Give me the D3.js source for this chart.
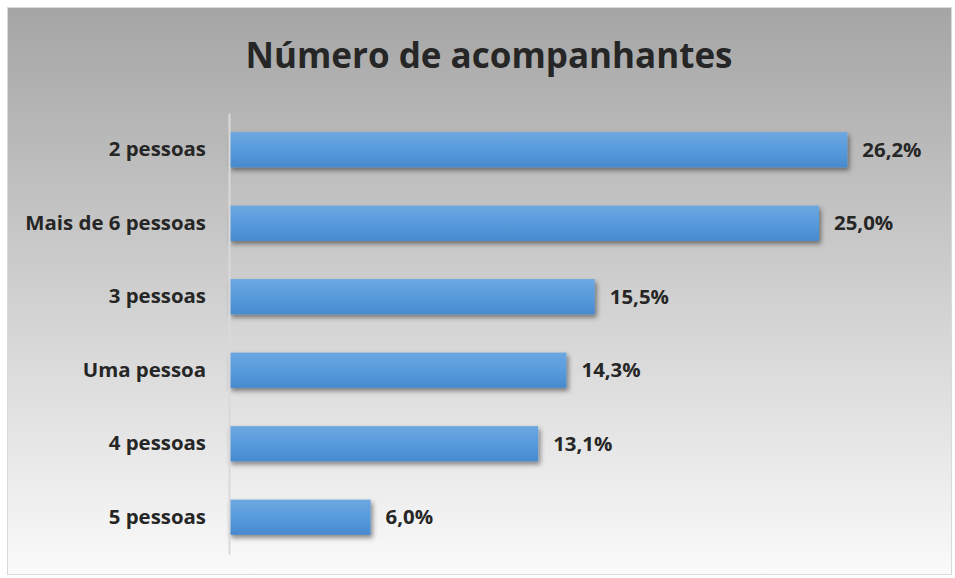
<!DOCTYPE html>
<html>
<head>
<meta charset="utf-8">
<script src="https://cdn.jsdelivr.net/npm/d3@7"></script>
<style>
  body { margin: 0; background: #fff; }
  text { font-family: 'Open Sans', 'Noto Sans', sans-serif; font-weight: bold; fill: #262626; }
</style>
</head>
<body>
<div id="graph"></div>
<script>
// Data
const categories = ['2 pessoas', 'Mais de 6 pessoas', '3 pessoas', 'Uma pessoa', '4 pessoas', '5 pessoas']
const values = [26.2, 25.0, 15.5, 14.3, 13.1, 6.0]
const title = 'Número de acompanhantes'

const W = 955, H = 578
const margin = { top: 113, right: 18, bottom: 24, left: 229 }
const width = W - margin.left - margin.right
const height = H - margin.top - margin.bottom

const svg = d3.select('#graph')
  .append('svg')
  .attr('width', W)
  .attr('height', H)

const defs = svg.append('defs')

// background gradient, grey on top fading to white
const bg = defs.append('linearGradient').attr('id', 'bg').attr('x1', 0).attr('y1', 0).attr('x2', 0).attr('y2', 1)
bg.append('stop').attr('offset', '0%').attr('stop-color', '#a5a5a5')
bg.append('stop').attr('offset', '100%').attr('stop-color', '#fafafa')

const barGrad = defs.append('linearGradient').attr('id', 'barGrad').attr('x1', 0).attr('y1', 0).attr('x2', 0).attr('y2', 1)
barGrad.append('stop').attr('offset', '0%').attr('stop-color', '#6ca7e0')
barGrad.append('stop').attr('offset', '50%').attr('stop-color', '#589bdd')
barGrad.append('stop').attr('offset', '100%').attr('stop-color', '#478acd')

const shadow = defs.append('filter').attr('id', 'shadow')
  .attr('x', '-5%').attr('y', '-20%').attr('width', '120%').attr('height', '160%')
shadow.append('feDropShadow')
  .attr('dx', 2).attr('dy', 3).attr('stdDeviation', 2.5)
  .attr('flood-color', '#000').attr('flood-opacity', 0.45)

svg.append('rect')
  .attr('x', 7.5).attr('y', 7.5)
  .attr('width', W - 11).attr('height', H - 11)
  .attr('fill', 'url(#bg)')
  .attr('stroke', '#d9d9d9')

svg.append('text')
  .attr('x', 489)
  .attr('y', 68)
  .attr('text-anchor', 'middle')
  .style('font-size', '35px')
  .text(title)

const g = svg.append('g')
  .attr('transform', 'translate(' + margin.left + ',' + margin.top + ')')

const x = d3.scaleLinear()
  .domain([0, 30])
  .range([0, width])

const y = d3.scaleBand()
  .domain(categories)
  .range([0, height])
  .paddingInner(0.52)
  .paddingOuter(0.26)

// bars
g.selectAll('.bar')
  .data(values)
  .join('rect')
  .attr('class', 'bar')
  .attr('x', 0)
  .attr('y', (d, i) => y(categories[i]))
  .attr('width', d => x(d))
  .attr('height', y.bandwidth())
  .attr('fill', 'url(#barGrad)')
  .attr('filter', 'url(#shadow)')

// category axis
const yAxis = g.append('g')
  .call(d3.axisLeft(y).tickSize(0).tickPadding(23))
yAxis.attr('font-family', null).attr('font-size', null)
yAxis.select('.domain').attr('stroke', '#d9d9d9').attr('stroke-width', 2)
yAxis.selectAll('text')
  .style('font-size', '20.4px')
  .attr('fill', '#262626')

// value labels
g.selectAll('.val')
  .data(values)
  .join('text')
  .attr('class', 'val')
  .attr('x', d => x(d) + 15)
  .attr('y', (d, i) => y(categories[i]) + y.bandwidth() / 2)
  .attr('dy', '0.35em')
  .style('font-size', '20.4px')
  .text(d => d3.format('.1f')(d).replace('.', ',') + '%')
</script>
</body>
</html>
